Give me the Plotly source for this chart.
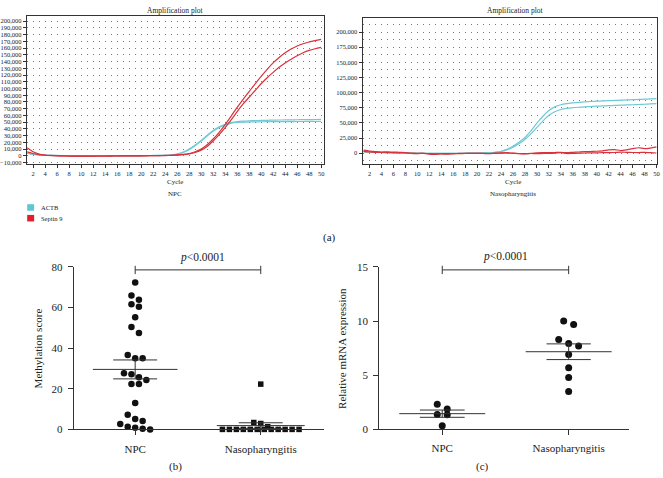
import numpy as np
import plotly.graph_objects as go

W, H = 663, 478

# ---------------- data ----------------
cycles = list(range(1, 51))

npc_actb_1 = [4000, 2500, 1500, 1000, 800, 600, 500, 400, 300, 200,
              200, 200, 200, 300, 300, 300, 400, 400, 400, 500,
              500, 600, 700, 900, 1500, 2800, 5500, 10000, 16000, 23000,
              30500, 37500, 43000, 47000, 49500, 50800, 51500, 52000, 52300, 52600,
              52800, 53000, 53200, 53300, 53500, 53600, 53700, 53800, 54000, 54200]
npc_actb_2 = [3500, 2200, 1300, 900, 700, 500, 400, 300, 200, 200,
              100, 100, 200, 200, 200, 300, 300, 300, 400, 400,
              500, 500, 600, 800, 1300, 2500, 5000, 9200, 15000, 22000,
              29500, 36500, 42000, 46000, 48300, 49500, 50000, 50300, 50500, 50600,
              50700, 50800, 50800, 50900, 50900, 51000, 51000, 51100, 51100, 51200]
npc_sept9_1 = [12000, 6000, 2500, 1200, 600, 200, 0, -200, -300, -300,
               -300, -300, -200, -200, -100, -100, 0, 0, 100, 100,
               200, 300, 400, 600, 900, 1400, 2200, 3500, 6000, 10000,
               16500, 25000, 35000, 46500, 59000, 72000, 84000, 95500, 107000, 118000,
               128500, 138000, 146000, 153000, 158500, 163000, 166500, 169000, 171000, 172800]
npc_sept9_2 = [6000, 3500, 1800, 900, 400, 100, -100, -300, -300, -300,
               -300, -300, -300, -300, -300, -200, -100, -100, 0, 0,
               100, 200, 300, 400, 700, 1100, 1800, 3000, 5000, 8500,
               14000, 22000, 31500, 42000, 53500, 65500, 77000, 87000, 97000, 107000,
               116000, 124000, 131500, 138000, 143500, 148500, 153000, 156500, 159000, 161000]

naso_actb_1 = [2500, 2000, 1800, 1500, 1200, 1000, 800, 500, 200, 0,
               -200, -300, -300, -300, -200, -200, -100, 0, 100, 200,
               400, 800, 1500, 3200, 6500, 11500, 18000, 26000, 37000, 49500,
               61000, 70500, 76500, 80000, 81800, 83000, 84000, 84800, 85300, 85800,
               86300, 86700, 87100, 87500, 87900, 88300, 88700, 89100, 89500, 90000]
naso_actb_2 = [2000, 1700, 1500, 1300, 1000, 800, 600, 400, 100, -100,
               -300, -400, -400, -300, -300, -200, -100, 0, 100, 200,
               300, 600, 1300, 2800, 5500, 9800, 15500, 22500, 32000, 42500,
               53000, 62500, 68500, 72200, 74000, 75000, 75800, 76500, 77000, 77600,
               78000, 78400, 78800, 79200, 79600, 80000, 80400, 80800, 81300, 81800]
naso_sept9_1 = [5000, 3500, 2500, 2000, 2200, 1800, 1500, 1200, -500, -800,
                0, -1500, -1800, -1200, -1500, -1000, -800, -500, -300, -200,
                -500, -800, 0, 500, 800, 0, -500, -800, -300, 500,
                1000, 800, 1200, 1500, 800, 1500, 2000, 2500, 2800, 3200,
                4000, 5500, 6000, 4500, 5500, 7500, 9000, 7500, 8500, 10500]
naso_sept9_2 = [3000, 2000, 1500, 1200, 1000, 800, 600, 500, 0, -300,
                -500, -800, -1000, -800, -700, -500, -400, -300, -200, -100,
                -300, -500, -300, 0, 300, -200, -800, -1000, -500, -800,
                -300, -200, 200, 800, -500, -300, 0, 300, 500, 700,
                800, 1000, 1200, 1800, 1500, 1200, 1000, 1500, 800, 300]

groups = ["NPC", "Nasopharyngitis"]
meth_npc = [72.4, 66.0, 63.9, 61.7, 60.4, 55.2, 50.4, 47.5, 36.7, 35.0, 35.0,
            27.6, 27.2, 25.7, 24.3, 22.4, 22.4, 13.0, 7.2, 5.1, 4.1, 2.7,
            1.3, 0.8, 0.3, 0.0]
meth_naso = [22.3, 3.4, 2.9, 1.3, 0.0, 0.0, 0.0, 0.0, 0.0, 0.0, 0.0, 0.0,
             0.0, 0.0, 0.0, 0.0]
mrna_npc = [2.31, 1.86, 1.35, 1.32, 0.30]
mrna_naso = [10.0, 9.67, 8.29, 7.93, 7.69, 6.91, 5.68, 4.77, 3.49]
p_text = "<i>p</i>&lt;0.0001"

# ---------------- layout helpers ----------------
FONT = "Liberation Serif"
CYAN = "#6fcad6"
RED = "#d8323c"
DARK = "#333333"
GRIDC = "#7a7a7a"


def X(px):
    return px / W


def Y(py):
    return 1 - py / H


# panel geometry in pixels (left, right, top, bottom)
A1 = (27, 325, 10, 162)
A2 = (364.3, 660, 12.7, 162)
B = (74, 325, 267.7, 434.3)
C = (381, 631.7, 267.7, 434)
B_XR, B_YR = [-0.49, 1.5], [0, 80]
C_XR, C_YR = [-0.498, 1.476], [0, 15]


def swarm(values, geom, xr, yr, slot_px, bin_px):
    ppx = (geom[1] - geom[0]) / (xr[1] - xr[0])
    ppy = (geom[3] - geom[2]) / (yr[1] - yr[0])
    vals = np.asarray(values, float)
    order = np.argsort(-vals, kind="stable")
    offs = np.zeros(len(vals))
    grp = []
    top = None

    def flush(g):
        n = len(g)
        for k, idx in enumerate(g):
            offs[idx] = (k - (n - 1) / 2) * slot_px / ppx

    for idx in order:
        if top is None or (top - vals[idx]) * ppy > bin_px:
            if grp:
                flush(grp)
            grp = [idx]
            top = vals[idx]
        else:
            grp.append(idx)
    if grp:
        flush(grp)
    return offs


fig = go.Figure()

# ---------------- panel (a) ----------------
for xa, ya, series in [
    ("x", "y", [(npc_actb_1, CYAN), (npc_actb_2, CYAN), (npc_sept9_1, RED), (npc_sept9_2, RED)]),
    ("x2", "y2", [(naso_actb_1, CYAN), (naso_actb_2, CYAN), (naso_sept9_1, RED), (naso_sept9_2, RED)]),
]:
    for vals, col in series:
        fig.add_trace(go.Scatter(x=cycles, y=vals, xaxis=xa, yaxis=ya, mode="lines",
                                 line=dict(color=col, width=1.2, shape="spline", smoothing=0.8),
                                 showlegend=False, hoverinfo="skip"))

# ---------------- panel (b) & (c) ----------------
def add_scatter(vals, gi, xa, ya, geom, xr, yr, slot, symbol, size):
    offs = swarm(vals, geom, xr, yr, slot, 7)
    fig.add_trace(go.Scatter(x=gi + offs, y=vals, xaxis=xa, yaxis=ya, mode="markers",
                             marker=dict(color="#111111", size=size, symbol=symbol,
                                         line=dict(width=0)),
                             cliponaxis=False, showlegend=False, hoverinfo="skip"))


add_scatter(meth_npc, 0, "x3", "y3", B, B_XR, B_YR, 7.5, "circle", 6.5)
add_scatter(meth_naso, 1, "x3", "y3", B, B_XR, B_YR, 7.0, "square", 5.5)
add_scatter(mrna_npc, 0, "x4", "y4", C, C_XR, C_YR, 10, "circle", 7)
add_scatter(mrna_naso, 1, "x4", "y4", C, C_XR, C_YR, 10, "circle", 7)

shapes = []


def mean_sem(vals, gi, xa, ya, half_mean, half_sem):
    v = np.asarray(vals, float)
    m = v.mean()
    s = v.std(ddof=1) / np.sqrt(len(v))
    ln = dict(color=DARK, width=1)
    shapes.append(dict(type="line", xref=xa, yref=ya, x0=gi - half_mean, x1=gi + half_mean, y0=m, y1=m, line=ln))
    shapes.append(dict(type="line", xref=xa, yref=ya, x0=gi - half_sem, x1=gi + half_sem, y0=m + s, y1=m + s, line=ln))
    shapes.append(dict(type="line", xref=xa, yref=ya, x0=gi - half_sem, x1=gi + half_sem, y0=m - s, y1=m - s, line=ln))
    shapes.append(dict(type="line", xref=xa, yref=ya, x0=gi, x1=gi, y0=m - s, y1=m + s, line=ln))


mean_sem(meth_npc, 0, "x3", "y3", 0.337, 0.175)
mean_sem(meth_naso, 1, "x3", "y3", 0.35, 0.175)
mean_sem(mrna_npc, 0, "x4", "y4", 0.34, 0.177)
mean_sem(mrna_naso, 1, "x4", "y4", 0.34, 0.175)

# significance brackets
for xa in ["x3", "x4"]:
    ln = dict(color=DARK, width=1)
    shapes.append(dict(type="line", xref=xa, yref="paper", x0=0, x1=1, y0=Y(270.7), y1=Y(270.7), line=ln))
    for xx in [0, 1]:
        shapes.append(dict(type="line", xref=xa, yref="paper", x0=xx, x1=xx, y0=Y(266.5), y1=Y(275), line=ln))

# legend squares
shapes.append(dict(type="rect", xref="paper", yref="paper", x0=X(27.3), x1=X(34.3), y0=Y(210), y1=Y(203.3),
                   fillcolor="#5fc6d6", line=dict(width=0)))
shapes.append(dict(type="rect", xref="paper", yref="paper", x0=X(27.3), x1=X(34.3), y0=Y(221), y1=Y(214.3),
                   fillcolor="#e0202c", line=dict(width=0)))

ann = []


def text(px, py, s, size=7, xanchor="center", angle=0, color="#222222"):
    ann.append(dict(x=X(px), y=Y(py), xref="paper", yref="paper", text=s, showarrow=False,
                    xanchor=xanchor, yanchor="middle", textangle=angle,
                    font=dict(family=FONT, size=size, color=color)))


text(176, 4.5, "Amplification plot", 7.5)
text(176, 180.7, "Cycle", 7)
text(176, 192.7, "NPC", 7)
text(518, 5, "Amplification plot", 7.5)
text(515, 180.7, "Cycle", 7)
text(515, 192.7, "Nasopharyngitis", 7)
text(39.3, 206.7, "ACTB", 6.5, "left")
text(39.3, 217.7, "Septin 9", 6.5, "left")
text(331, 237, "(a)", 11)
text(203, 258.3, p_text, 11.5)
text(507.7, 256.7, p_text, 11.5)
text(37.7, 351.7, "Methylation score", 11, angle=-90)
text(343.3, 351, "Relative mRNA expression", 11, angle=-90)
text(176.7, 472, "(b)", 11)
text(485, 472, "(c)", 11)

# ---------------- axes ----------------
tickfont_a = dict(family=FONT, size=6.5, color="#222222")


def amp_x(geom, xr):
    return dict(domain=[X(geom[0]), X(geom[1])], range=xr, tick0=2, dtick=2,
                ticks="outside", ticklen=3, tickcolor=DARK, showline=True, mirror=True,
                linecolor=DARK, linewidth=1, zeroline=False, tickfont=tickfont_a,
                showgrid=False)


def amp_y(geom, yr, dt, minor_dt):
    d = dict(domain=[Y(geom[3]), Y(geom[2])], range=yr, dtick=dt, tick0=0,
             tickformat=",d", ticks="outside", ticklen=3, tickcolor=DARK, showline=True,
             mirror=True, linecolor=DARK, linewidth=1, zeroline=False, tickfont=tickfont_a,
             showgrid=True, gridcolor=GRIDC, gridwidth=1, griddash="1px,5px")
    if minor_dt:
        d["minor"] = dict(dtick=minor_dt, tick0=0, showgrid=True, gridcolor=GRIDC,
                          griddash="1px,5px")
    return d


tickfont_b = dict(family=FONT, size=11, color="#222222")


def cat_x(geom, xr, anchor):
    return dict(domain=[X(geom[0]), X(geom[1])], range=xr, anchor=anchor,
                tickvals=[0, 1], ticktext=groups, ticks="outside", ticklen=5,
                tickcolor=DARK, showline=True, linecolor=DARK, linewidth=1,
                showgrid=False, zeroline=False, tickfont=tickfont_b,
                ticklabelstandoff=4)


def val_y(geom, yr, dt, anchor):
    return dict(domain=[Y(geom[3]), Y(geom[2])], range=yr, anchor=anchor, dtick=dt,
                ticks="outside", ticklen=5, tickcolor=DARK, showline=True,
                linecolor=DARK, linewidth=1, showgrid=False, zeroline=False,
                tickfont=tickfont_b, ticklabelstandoff=3)


fig.update_layout(
    width=W, height=H, margin=dict(l=0, r=0, t=0, b=0),
    paper_bgcolor="white", plot_bgcolor="white", showlegend=False,
    xaxis=dict(anchor="y", **amp_x(A1, [0.95, 50.4])),
    yaxis=dict(anchor="x", **amp_y(A1, [-12000, 208000], 10000, None)),
    xaxis2=dict(anchor="y2", **amp_x(A2, [0.85, 50.1])),
    yaxis2=dict(anchor="x2", **amp_y(A2, [-17700, 222500], 25000, 12500)),
    xaxis3=cat_x(B, B_XR, "y3"),
    yaxis3=val_y(B, B_YR, 20, "x3"),
    xaxis4=cat_x(C, C_XR, "y4"),
    yaxis4=val_y(C, C_YR, 5, "x4"),
    shapes=shapes, annotations=ann,
)

fig.write_html("out.html", config={"displayModeBar": False},
               post_script="document.body.style.margin='0';document.body.style.padding='0';")
